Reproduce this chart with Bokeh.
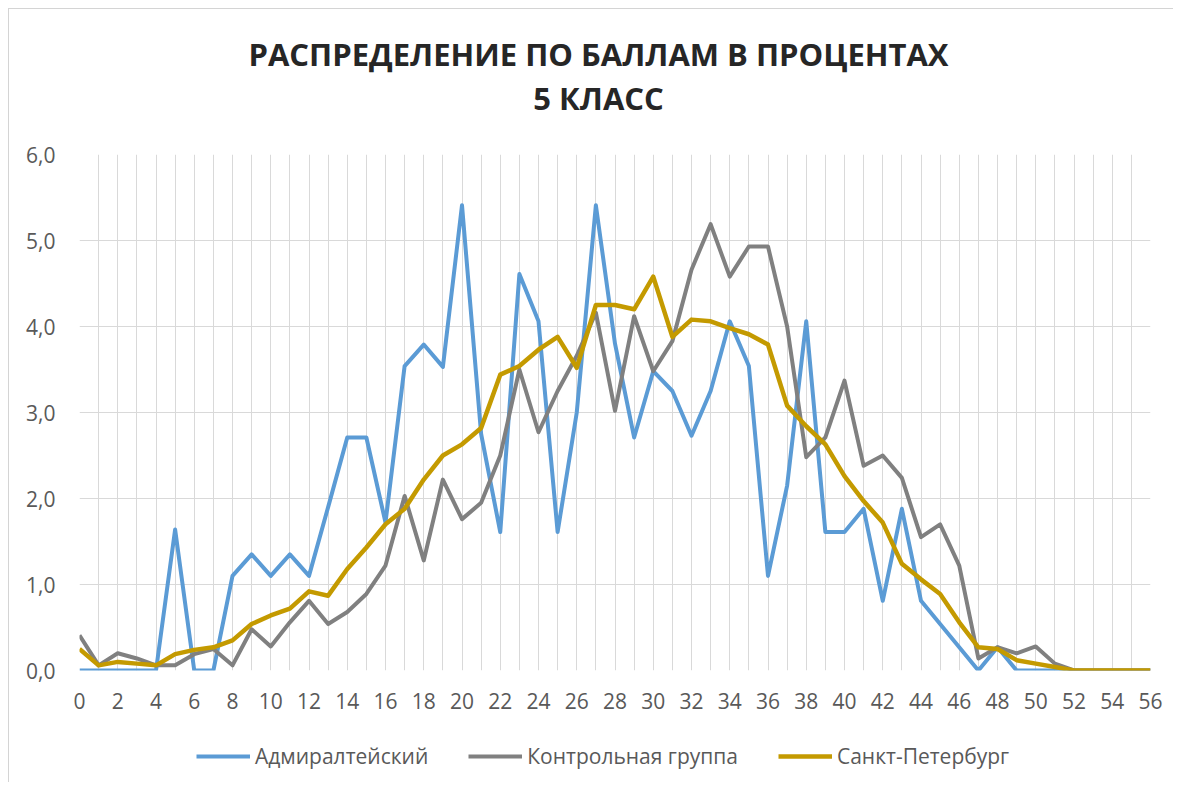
from bokeh.plotting import figure
from bokeh.layouts import column
from bokeh.models import (Label, Legend, LegendItem, CustomJSTickFormatter,
                          SingleIntervalTicker, Range1d)
from bokeh.embed import file_html
from bokeh.resources import INLINE

# ---- data ----
scores = list(range(57))
admiralteysky = [0, 0, 0, 0, 0, 1.64, 0, 0, 1.10, 1.35,
                 1.10, 1.35, 1.10, 1.90, 2.71, 2.71, 1.72, 3.54, 3.79, 3.53,
                 5.41, 2.75, 1.61, 4.61, 4.06, 1.61, 3.00, 5.41, 3.80, 2.71,
                 3.48, 3.25, 2.73, 3.25, 4.06, 3.54, 1.10, 2.15, 4.06, 1.61,
                 1.61, 1.88, 0.81, 1.88, 0.81, 0.54, 0.27, 0.00, 0.27, 0,
                 0, 0, 0, 0, 0, 0, 0]
control = [0.41, 0.06, 0.20, 0.14, 0.06, 0.06, 0.19, 0.25, 0.06, 0.48,
           0.28, 0.56, 0.81, 0.54, 0.68, 0.89, 1.22, 2.03, 1.28, 2.22,
           1.76, 1.95, 2.50, 3.50, 2.77, 3.25, 3.66, 4.16, 3.02, 4.12,
           3.48, 3.83, 4.66, 5.19, 4.58, 4.93, 4.93, 4.00, 2.48, 2.71,
           3.37, 2.38, 2.50, 2.24, 1.55, 1.70, 1.22, 0.14, 0.27, 0.20,
           0.28, 0.08, 0, 0, 0, 0, 0]
spb = [0.25, 0.06, 0.10, 0.08, 0.06, 0.19, 0.24, 0.27, 0.35, 0.54,
       0.64, 0.72, 0.92, 0.87, 1.18, 1.43, 1.70, 1.88, 2.22, 2.50,
       2.63, 2.82, 3.44, 3.54, 3.73, 3.88, 3.52, 4.25, 4.25, 4.20,
       4.58, 3.88, 4.08, 4.06, 3.98, 3.91, 3.79, 3.08, 2.84, 2.63,
       2.26, 1.97, 1.72, 1.24, 1.06, 0.89, 0.56, 0.27, 0.25, 0.12,
       0.08, 0.04, 0, 0, 0, 0, 0]
series = [admiralteysky, control, spb]
series_names = ["Адмиралтейский", "Контрольная группа", "Санкт-Петербург"]
title_lines = ["РАСПРЕДЕЛЕНИЕ ПО БАЛЛАМ В ПРОЦЕНТАХ", "5 КЛАСС"]

colors = ["#5B9BD5", "#808080", "#C49A00"]
widths = [4, 4, 4.5]
FONT = "Open Sans"
W = 1164


def bare(fig):
    fig.outline_line_color = None
    fig.axis.visible = False
    fig.grid.visible = False
    fig.background_fill_color = "white"
    fig.border_fill_color = "white"


# ---- title figure ----
tf = figure(width=W, height=130, output_backend="svg", toolbar_location=None,
            x_range=Range1d(0, 1), y_range=Range1d(0, 1),
            min_border=0, min_border_left=0, min_border_right=0,
            min_border_top=0, min_border_bottom=0)
bare(tf)
tf.add_layout(Label(x=519, y=86, x_units="screen", y_units="screen",
                    text=title_lines[0], text_align="center", text_baseline="middle",
                    text_font=FONT, text_font_size="31px", text_font_style="bold",
                    text_color="#262626"))
tf.add_layout(Label(x=519, y=42, x_units="screen", y_units="screen",
                    text=title_lines[1], text_align="center", text_baseline="middle",
                    text_font=FONT, text_font_size="31px", text_font_style="bold",
                    text_color="#262626"))

# ---- main figure ----
p = figure(width=W, height=595, output_backend="svg", toolbar_location=None,
           title=None, x_range=Range1d(0, 56), y_range=Range1d(0, 6),
           min_border_left=70, min_border_right=23, min_border_top=15,
           min_border_bottom=64)
p.outline_line_color = None
p.background_fill_color = "white"
p.border_fill_color = "white"

p.xgrid.ticker = SingleIntervalTicker(interval=1, num_minor_ticks=0)
p.ygrid.ticker = SingleIntervalTicker(interval=1, num_minor_ticks=0)
for g in (p.xgrid, p.ygrid):
    g.grid_line_color = "#d9d9d9"
    g.grid_line_width = 1

p.xaxis.ticker = SingleIntervalTicker(interval=2, num_minor_ticks=0)
p.yaxis.ticker = SingleIntervalTicker(interval=1, num_minor_ticks=0)
p.yaxis.formatter = CustomJSTickFormatter(code="return tick.toFixed(1).replace('.', ',');")
for ax in (p.xaxis, p.yaxis):
    ax.axis_line_color = None
    ax.major_tick_line_color = None
    ax.minor_tick_line_color = None
    ax.major_label_text_font = FONT
    ax.major_label_text_font_size = "21px"
    ax.major_label_text_color = "#595959"
p.xaxis.major_label_standoff = 16
p.yaxis.major_label_standoff = 18

for ys, c, w in zip(series, colors, widths):
    p.line(scores, ys, line_color=c, line_width=w, line_join="round")

# ---- legend figure (same series, drawn out of view; only the legend shows) ----
lf = figure(width=W, height=48, output_backend="svg", toolbar_location=None,
            x_range=Range1d(0, 56), y_range=Range1d(100, 101),
            min_border=0, min_border_left=0, min_border_right=0,
            min_border_top=0, min_border_bottom=0)
bare(lf)
items = []
for ys, c, w, name in zip(series, colors, widths, series_names):
    r = lf.line(scores, ys, line_color=c, line_width=w)
    items.append(LegendItem(label=name, renderers=[r]))
legend = Legend(items=items, orientation="horizontal", location=(117, 12),
                border_line_color=None, background_fill_alpha=0,
                padding=0, margin=0, spacing=40, glyph_width=54, glyph_height=20,
                label_standoff=5, label_height=20,
                label_text_font=FONT, label_text_font_size="21px",
                label_text_color="#595959")
lf.add_layout(legend)

layout = column(tf, p, lf, spacing=0,
                styles={"margin-left": "8px", "margin-top": "8px",
                        "border-left": "1px solid #d4d4d4",
                        "border-top": "1px solid #d4d4d4"})

open("out.html", "w").write(file_html(layout, INLINE))
